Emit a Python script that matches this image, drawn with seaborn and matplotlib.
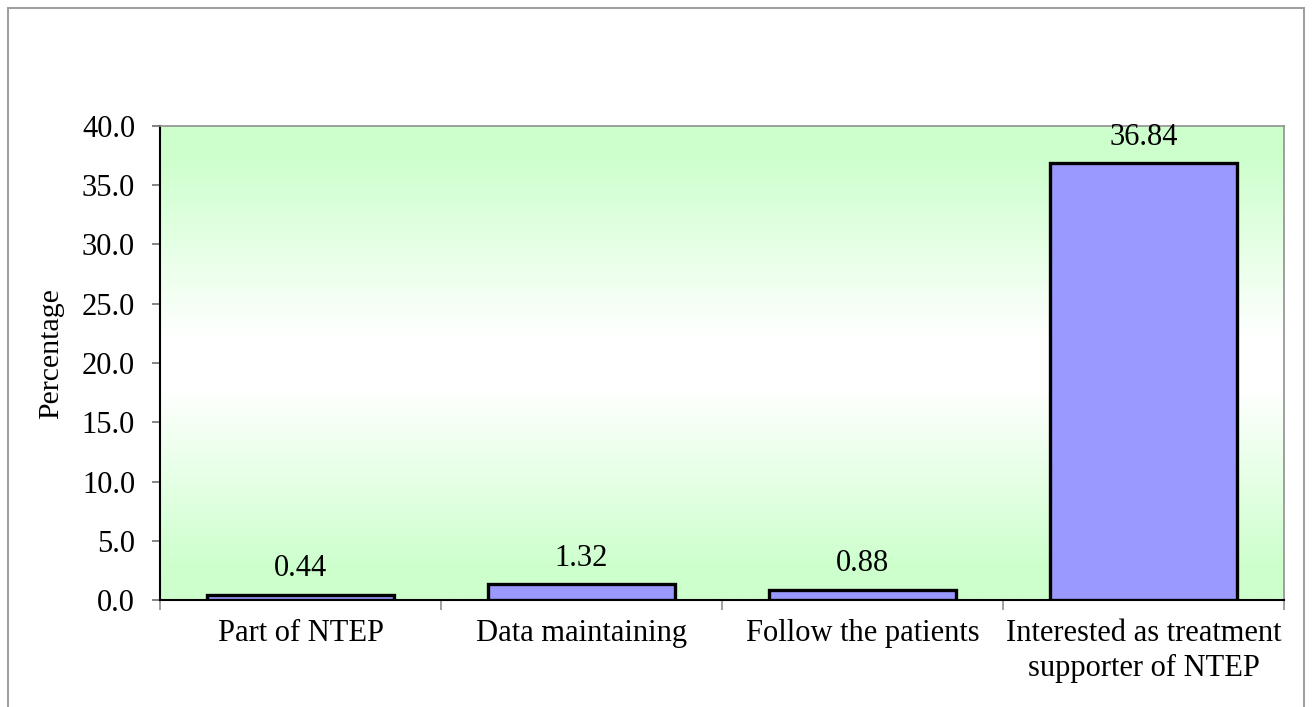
import numpy as np
import matplotlib
matplotlib.use("Agg")
import matplotlib.pyplot as plt
import seaborn as sns
from matplotlib.colors import LinearSegmentedColormap
from matplotlib.patches import Rectangle

# Data
categories = ["Part of NTEP", "Data maintaining", "Follow the patients",
              "Interested as treatment\nsupporter of NTEP"]
percentages = [0.44, 1.32, 0.88, 36.84]
value_labels = ["0.44", "1.32", "0.88", "36.84"]
y_ticks = [0, 5, 10, 15, 20, 25, 30, 35, 40]

sns.set_style("white")
plt.rcParams['font.family'] = ['Liberation Serif', 'DejaVu Serif']
plt.rcParams['text.color'] = 'black'
plt.rcParams['axes.labelcolor'] = 'black'

# Creating the figure
fig = plt.figure(figsize=(13.12, 7.07), dpi=100)
ax = fig.add_axes([0.122, 0.1513, 0.8567, 0.6705])

sns.barplot(x=categories, y=percentages, color="#9999FF", edgecolor="black",
            linewidth=2.4, width=0.665, saturation=1, ax=ax, zorder=3)

# Green - white - green background of the plot area
grad_cmap = LinearSegmentedColormap.from_list(
    "bg", [(0.0, "#CCFFCC"), (0.06, "#CCFFCC"), (0.45, "#FFFFFF"),
           (0.55, "#FFFFFF"), (0.94, "#CCFFCC"), (1.0, "#CCFFCC")], N=256)
grad = np.linspace(0, 1, 256)
ax.imshow(grad.reshape(-1, 1), cmap=grad_cmap, aspect="auto",
          extent=[-0.5, 3.5, 0, 40], zorder=0, interpolation="bilinear")
ax.set_xlim(-0.5, 3.5)
ax.set_ylim(0, 40)

# Value labels
for i, (v, lab) in enumerate(zip(percentages, value_labels)):
    ax.text(i, v + 1.0, lab, ha="center", va="bottom", fontsize=22,
            color="black", zorder=4)

# Axes styling
ax.set_yticks(y_ticks)
ax.set_yticklabels([f"{t:.1f}" for t in y_ticks], fontsize=22)
ax.set_ylabel("Percentage", fontsize=21.5, color="black")
ax.yaxis.set_label_coords(-0.085, 0.52)
ax.set_xlabel("")
ax.tick_params(axis="y", direction="out", length=6, width=1.2,
               color="#707070", labelcolor="black", pad=12, left=True)
ax.tick_params(axis="x", which="major", length=0, pad=14, labelsize=22,
               labelcolor="black")
ax.set_xticks(np.arange(-0.5, 4.0, 1.0), minor=True)
ax.tick_params(axis="x", which="minor", direction="out", length=7,
               width=1.2, color="#909090", bottom=True)
for lab in ax.get_xticklabels():
    lab.set_linespacing(1.25)

ax.spines["left"].set_color("black")
ax.spines["bottom"].set_color("black")
ax.spines["left"].set_linewidth(1.5)
ax.spines["bottom"].set_linewidth(1.5)
for s in ["top", "right"]:
    ax.spines[s].set_visible(True)
    ax.spines[s].set_color("#909090")
    ax.spines[s].set_linewidth(1.2)

# Outer chart border
fig.patches.append(Rectangle((8 / 1312, -0.05), 1296 / 1312, 1.05 - 8 / 707,
                             transform=fig.transFigure, fill=False,
                             edgecolor="#A0A0A0", linewidth=1.5))

# Saving the figure
plt.savefig("out.png", dpi=100)
